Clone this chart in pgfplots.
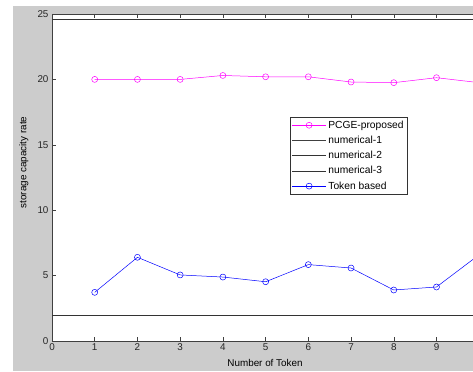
\documentclass[border=0pt]{standalone}
\usepackage{pgfplots}
\pgfplotsset{compat=1.18}
\usepackage{fontspec}
\setmainfont{Liberation Sans}
\definecolor{figgray}{RGB}{204,204,204}
\definecolor{axgray}{RGB}{64,64,64}
\definecolor{mlmagenta}{RGB}{255,0,255}
\definecolor{mlblue}{RGB}{0,0,255}
\begin{document}
\begin{tikzpicture}[x=1bp,y=1bp]
\useasboundingbox (0,0) rectangle (473,371);
\fill[white] (0,0) rectangle (473,371);
\fill[figgray] (13,0) rectangle (473,365);
\clip (0,0) rectangle (473,371);
\begin{axis}[
  at={(52bp,30bp)}, anchor=south west,
  scale only axis, width=427.2bp, height=327bp,
  xmin=0, xmax=10, ymin=0, ymax=25,
  xtick={0,1,...,10}, xticklabels={0,1,2,3,4,5,6,7,8,9,{}}, ytick={0,5,...,25},
  tick align=inside, major tick length=4bp,
  axis line style={axgray, line width=0.6pt},
  every tick/.style={axgray, line width=0.5pt},
  axis background/.style={fill=white},
  /pgf/number format/assume math mode=true,
  tick label style={font=\fontsize{9.9}{11}\selectfont, text=black!85},
  xticklabel style={yshift=1bp},
  xlabel={Number of Token}, ylabel={storage capacity rate},
  label style={font=\fontsize{9.9}{11}\selectfont},
  xlabel style={at={(axis description cs:0.4986,-0.067)}, anchor=center},
  ylabel style={at={(axis description cs:-0.066,0.546)}, anchor=center, rotate=0},
  legend style={at={(axis description cs:0.5573,0.685)}, anchor=north west,
    font=\fontsize{10.3}{11.5}\selectfont, draw=black!80, line width=0.6pt,
    inner sep=1.5bp, row sep=2.3bp, cells={anchor=west}},
  legend image code/.code={\draw[mark repeat=2,mark phase=2] plot coordinates {(0bp,0bp) (17bp,0bp) (34bp,0bp)};},
  every axis plot/.append style={line width=0.5pt},
]
\addplot[mlmagenta, mark=o, mark size=3bp, mark options={solid}] coordinates {
(1,20.0) (2,20.0) (3,20.0) (4,20.3) (5,20.2) (6,20.2) (7,19.8) (8,19.75) (9,20.13) (10,19.75)};
\addlegendentry{PCGE-proposed}
\addplot[black!75, no marks] coordinates {(0,25) (10,25)};
\addlegendentry{numerical-1}
\addplot[black!80, no marks] coordinates {(0,24.6) (10,24.6)};
\addlegendentry{numerical-2}
\addplot[black!80, no marks] coordinates {(0,2.0) (10,2.0)};
\addlegendentry{numerical-3}
\addplot[mlblue, mark=o, mark size=3bp, mark options={solid}] coordinates {
(1,3.72) (2,6.4) (3,5.05) (4,4.89) (5,4.53) (6,5.84) (7,5.58) (8,3.9) (9,4.13) (10,6.6)};
\addlegendentry{Token based}
\end{axis}
\end{tikzpicture}
\end{document}
